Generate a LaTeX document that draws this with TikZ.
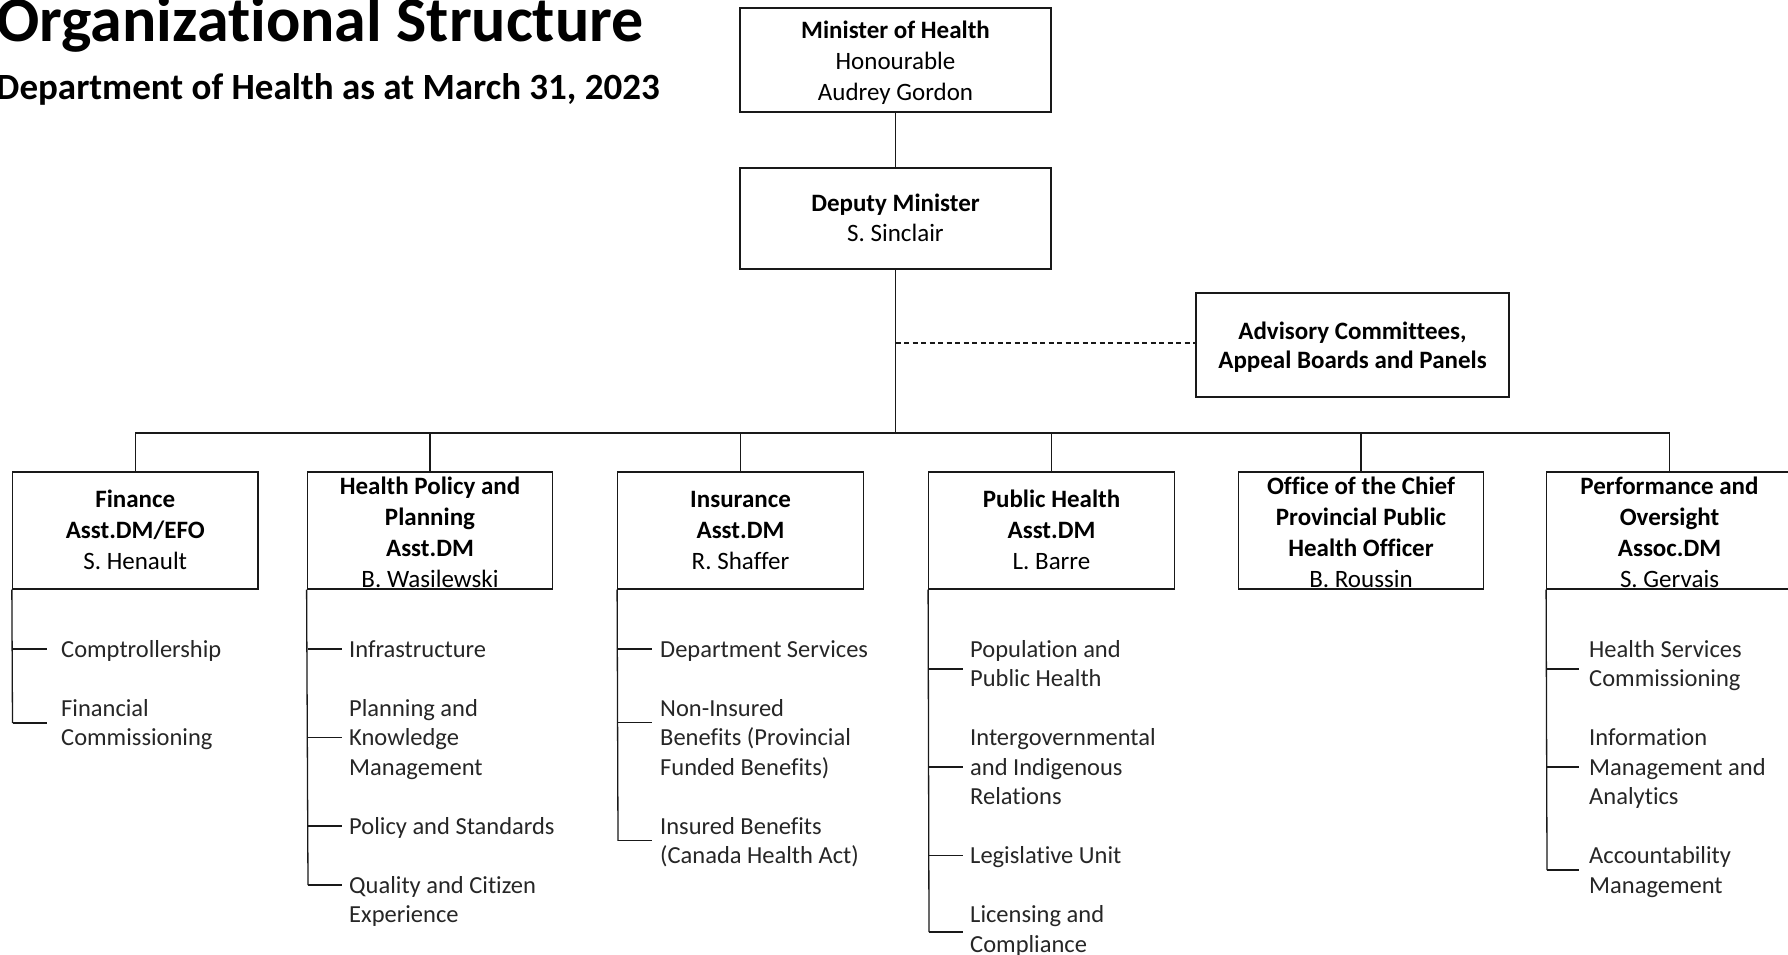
\documentclass[tikz,border=0pt]{standalone}
\usepackage{fontspec}
\setmainfont{Carlito}[Ligatures={NoCommon}]
\newcommand{\SubIt}[4]{\node[subtxt] (#1) at (#2,{636.35+29.5*#3}) {#4};}
\begin{document}
\begin{tikzpicture}[x=1pt,y=-1pt,
  line/.style={draw=black!90, line width=1.3pt},
  box/.style={line, rectangle, inner sep=0pt, fill=white},
  l2box/.style={box, minimum width=245.5pt, minimum height=117pt},
  boxtxt/.style={anchor=north, inner sep=0pt, align=center, font=\fontsize{25}{#1}\selectfont},
  boxtxt/.default=31,
  subtxt/.style={anchor=north west, inner sep=0pt, align=left, text=black!85, font=\fontsize{24.5}{29.5}\selectfont},
  tick/.style={line}
]
\useasboundingbox (0,0) rectangle (1788,954);
\clip (0,0) rectangle (1788,954);
\fill[white] (0,0) rectangle (1788,954);

% titles
\node[anchor=base west, inner sep=0pt, font=\fontsize{64}{64}\selectfont\bfseries] (title) at (-4,41) {Organizational Structure};
\node[anchor=base west, inner sep=0pt, font=\fontsize{37}{37}\selectfont\bfseries] (subtitle) at (-4,99) {Department of Health as at March 31, 2023};

% top boxes
\node[box, minimum width=311pt, minimum height=104pt] (min) at (895.5,60) {};
\node[boxtxt=31] (mint) at (895.5,16.5) {\strut\textbf{Minister of Health}\\\strut Honourable\\\strut Audrey Gordon};
\node[box, minimum width=311pt, minimum height=101pt] (dep) at (895.5,218.5) {};
\node[boxtxt=30] (dept) at (895.5,190) {\strut\textbf{Deputy Minister}\\\strut S. Sinclair};
\node[box, minimum width=313pt, minimum height=104pt] (adv) at (1352.5,345) {};
\node[boxtxt=29] (advt) at (1352.5,318.7) {\strut\textbf{Advisory Committees,}\\\strut\textbf{Appeal Boards and Panels}};

% level 2 boxes
\node[l2box] (fin) at (135.25,530.5) {};
\node[l2box] (hp) at (430,530.5) {};
\node[l2box] (ins) at (740.5,530.5) {};
\node[l2box] (ph) at (1051.5,530.5) {};
\node[l2box] (off) at (1361,530.5) {};
\node[l2box] (perf) at (1669.5,530.5) {};

\node[boxtxt] (fint) at (135.25,485.3) {\strut\textbf{Finance}\\\strut\textbf{Asst.DM/EFO}\\\strut S. Henault};
\node[boxtxt] (hpt) at (430,472.3) {\strut\textbf{Health Policy and}\\\strut\textbf{Planning}\\\strut\textbf{Asst.DM}\\\strut B. Wasilewski};
\node[boxtxt] (inst) at (740.5,485.3) {\strut\textbf{Insurance}\\\strut\textbf{Asst.DM}\\\strut R. Shaffer};
\node[boxtxt] (pht) at (1051.5,485.3) {\strut\textbf{Public Health}\\\strut\textbf{Asst.DM}\\\strut L. Barre};
\node[boxtxt] (offt) at (1361,472.3) {\strut\textbf{Office of the Chief}\\\strut\textbf{Provincial Public}\\\strut\textbf{Health Officer}\\\strut B. Roussin};
\node[boxtxt] (perft) at (1669.5,472.3) {\strut\textbf{Performance and}\\\strut\textbf{Oversight}\\\strut\textbf{Assoc.DM}\\\strut S. Gervais};

% main connectors
\coordinate (bus) at (895.5,433);
\coordinate (dash) at (895.5,343);
\draw[line] (min.south) -- (dep.north);
\draw[line] (dep.south) -- (bus);
\draw[line, dash pattern=on 5pt off 3.5pt] (dash) -- (dash -| adv.west);
\foreach \n in {fin,hp,ins,ph,off,perf} \draw[line] (bus) -| (\n.north);

% sub items: Finance
\SubIt{fin1}{61}{0}{\strut Comptrollership}
\SubIt{fin2}{61}{2}{\strut Financial\\\strut Commissioning}
\coordinate (fin-a) at (12.5,649);
\coordinate (fin-b) at (12.5,723);
\draw[line] (fin.south west) -- (fin-b);
\foreach \c in {fin-a,fin-b} \draw[tick] (\c) -- ++(34,0);

% Health Policy
\SubIt{hp1}{349}{0}{\strut Infrastructure}
\SubIt{hp2}{349}{2}{\strut Planning and\\\strut Knowledge\\\strut Management}
\SubIt{hp3}{349}{6}{\strut Policy and Standards}
\SubIt{hp4}{349}{8}{\strut Quality and Citizen\\\strut Experience}
\coordinate (hp-a) at (308,649);
\coordinate (hp-b) at (308,737.5);
\coordinate (hp-c) at (308,826);
\coordinate (hp-d) at (308,885);
\draw[line] (hp.south west) -- (hp-d);
\foreach \c in {hp-a,hp-b,hp-c,hp-d} \draw[tick] (\c) -- ++(34,0);

% Insurance
\SubIt{ins1}{660}{0}{\strut Department Services}
\SubIt{ins2}{660}{2}{\strut Non-Insured\\\strut Benefits (Provincial\\\strut Funded Benefits)}
\SubIt{ins3}{660}{6}{\strut Insured Benefits\\\strut (Canada Health Act)}
\coordinate (ins-a) at (618,649);
\coordinate (ins-b) at (618,722.75);
\coordinate (ins-c) at (618,840.75);
\draw[line] (ins.south west) -- (ins-c);
\foreach \c in {ins-a,ins-b,ins-c} \draw[tick] (\c) -- ++(34,0);

% Public Health
\SubIt{ph1}{970}{0}{\strut Population and\\\strut Public Health}
\SubIt{ph2}{970}{3}{\strut Intergovernmental\\\strut and Indigenous\\\strut Relations}
\SubIt{ph3}{970}{7}{\strut Legislative Unit}
\SubIt{ph4}{970}{9}{\strut Licensing and\\\strut Compliance}
\coordinate (ph-a) at (929,669);
\coordinate (ph-b) at (929,767);
\coordinate (ph-c) at (929,855.5);
\coordinate (ph-d) at (929,932);
\draw[line] (ph.south west) -- (ph-d);
\foreach \c in {ph-a,ph-b,ph-c,ph-d} \draw[tick] (\c) -- ++(34,0);

% Performance
\SubIt{pf1}{1589}{0}{\strut Health Services\\\strut Commissioning}
\SubIt{pf2}{1589}{3}{\strut Information\\\strut Management and\\\strut Analytics}
\SubIt{pf3}{1589}{7}{\strut Accountability\\\strut Management}
\coordinate (pf-a) at (1547,669);
\coordinate (pf-b) at (1547,767);
\coordinate (pf-c) at (1547,870);
\draw[line] (perf.south west) -- (pf-c);
\foreach \c in {pf-a,pf-b,pf-c} \draw[tick] (\c) -- ++(32,0);
\end{tikzpicture}
\end{document}
